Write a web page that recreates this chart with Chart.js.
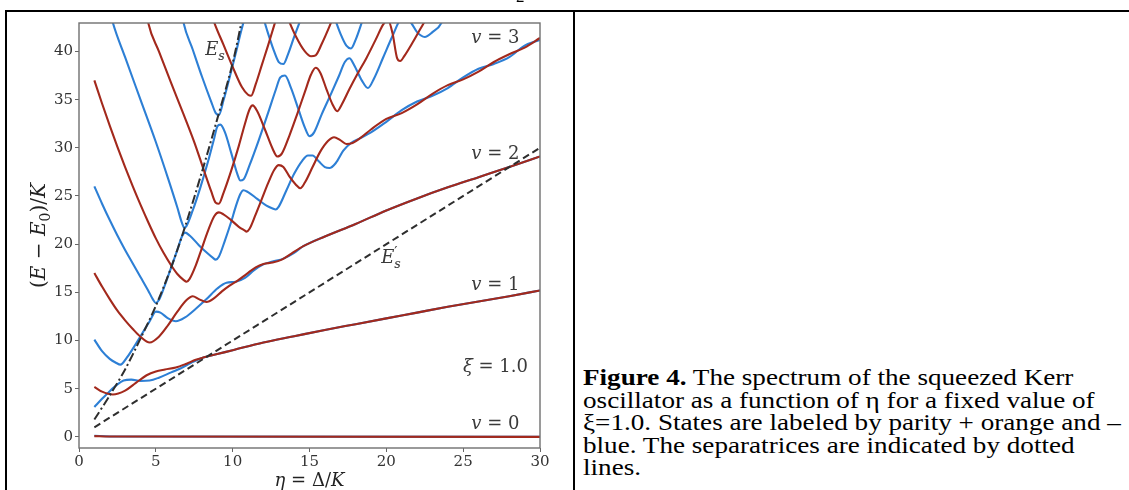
<!DOCTYPE html>
<html>
<head>
<meta charset="utf-8">
<script src="https://cdn.jsdelivr.net/npm/chart.js@4.4.1/dist/chart.umd.min.js"></script>
<style>
  html,body{margin:0;padding:0;background:#fff;}
  body{width:1129px;height:490px;overflow:hidden;position:relative;}
  #cv{position:absolute;left:0;top:0;}
  .ln{position:absolute;background:#000;z-index:5;}
  #cap{position:absolute;left:583px;top:367px;font-family:"Liberation Serif","Times New Roman",serif;
       font-size:23px;line-height:22.6px;color:#000;white-space:nowrap;transform:scaleX(1.18);transform-origin:0 0;}
  #frag{position:absolute;left:516px;top:-13px;font-family:"Liberation Serif",serif;font-size:17px;color:#000;}
</style>
</head>
<body>
<canvas id="cv" width="575" height="500"></canvas>
<div id="frag">2</div>
<div class="ln" style="left:5px;top:10px;width:1124px;height:2px;"></div>
<div class="ln" style="left:5px;top:10px;width:2px;height:480px;"></div>
<div class="ln" style="left:573px;top:10px;width:2px;height:480px;"></div>
<div id="cap"><b>Figure 4.</b> The spectrum of the squeezed Kerr<br>oscillator as a function of η for a fixed value of<br>ξ=1.0. States are labeled by parity + orange and –<br>blue. The separatrices are indicated by dotted<br>lines.</div>
<script>
// ---------- axis / tick data ----------
const xTicks = [0, 5, 10, 15, 20, 25, 30];
const yTicks = [0, 5, 10, 15, 20, 25, 30, 35, 40];
const xLimits = [0, 30];
const yLimits = [-1.15, 42.95];

// ---------- separatrices ----------
const sepPrime = [[1,1.0],[30,30.0]];                       // E's (dashed)
const sepS = [[1,1.8],[2,4.3],[3,7.0],[4,10.2],[5,13.6],[6,17.6],[7,22.3],[8,27.5],[9,33.0],[10,38.8],[10.7,44]]; // Es (dash-dot)

// ---------- even parity (red) levels ----------
const red0 = [[1,0.08],[2,0.04],[30,0.0]];
const red1 = [[1,5.2],[1.5,4.7],[2.2,4.4],[3,4.8],[3.7,5.6],[4.4,6.4],[5,6.8],[5.6,7.0],[6.3,7.2],[7,7.6],[7.6,8.0],[8,8.2],[9,8.6],[10,9.0],[12,9.8],[14,10.45],[16,11.1],[18,11.7],[20,12.3],[22,12.9],[24,13.5],[26,14.05],[28,14.6],[30,15.2]];
const red2 = [[1,17.0],[1.5,15.6],[2,14.3],[2.5,13.1],[3,12.1],[3.5,11.2],[4,10.4],[4.6,9.8],[5.2,10.4],[5.8,11.6],[6.4,13.0],[7.0,14.2],[7.4,14.6],[7.8,14.3],[8.3,14.0],[8.8,14.4],[9.3,15.1],[9.8,15.7],[10.3,16.2],[10.9,16.9],[11.5,17.6],[12.0,17.95],[12.6,18.1],[13.2,18.4],[13.8,19.0],[14.6,19.8],[16,20.8],[18,22.1],[20,23.5],[22,24.75],[24,25.9],[26,26.95],[28,28.0],[30,29.1]];
const red3 = [[1,37],[1.5,34.6],[2,32.3],[2.5,30.1],[3,28.0],[3.5,26.0],[4,24.1],[4.5,22.3],[5,20.6],[5.5,19.1],[6,17.8],[6.4,16.9],[6.8,16.3],[7.0,16.1],[7.2,16.4],[7.6,17.8],[8.0,19.6],[8.4,21.4],[8.8,22.9],[9.1,23.3],[9.4,23.1],[9.9,22.5],[10.4,21.8],[10.8,21.4],[10.9,21.3],[11.1,21.6],[11.5,23.1],[11.9,24.7],[12.3,26.3],[12.7,27.7],[13.0,28.2],[13.3,28.0],[13.7,27.0],[14.1,26.2],[14.4,25.8],[14.7,26.4],[15.2,28.0],[15.7,29.6],[16.2,30.7],[16.6,31.1],[17.0,30.8],[17.4,30.4],[17.8,30.5],[18.3,31.0],[19,31.9],[20,33.0],[21,33.6],[22,34.5],[23,35.6],[24,36.5],[25,37.1],[26,37.9],[27,38.9],[28,39.7],[29,40.4],[30,41.4]];
const red4 = [[4.4,44],[4.5,43],[5.2,40.0],[6,36.7],[6.8,33.5],[7.5,30.6],[8.1,27.8],[8.6,25.5],[8.9,24.3],[9.1,24.2],[9.4,25.3],[9.9,27.6],[10.4,30.2],[10.8,32.5],[11.1,34.0],[11.3,34.4],[11.6,33.8],[12.1,31.9],[12.6,29.9],[12.9,29.1],[13.2,29.4],[13.7,31.3],[14.2,33.5],[14.7,35.8],[15.1,37.6],[15.4,38.3],[15.7,37.8],[16.1,36.1],[16.5,34.5],[16.8,33.8],[17.1,34.5],[17.6,36.1],[18.1,37.6],[18.7,39.3],[19.3,41.2],[19.8,42.8],[20.1,43.3],[20.4,41.9],[20.7,39.3],[20.9,39.0],[21.2,39.6],[21.7,40.9],[22.2,42.3],[22.6,43.4],[22.8,44]];
const red5 = [[8.6,44],[8.8,43],[9.4,40.7],[10.0,38.4],[10.6,36.3],[11.0,35.5],[11.2,35.4],[11.5,36.6],[11.9,38.6],[12.3,40.6],[12.7,42.7],[13.0,44.2],[13.3,44.6],[13.6,43.4],[14.1,41.6],[14.7,40.0],[15.1,39.5],[15.4,39.6],[15.8,40.8],[16.3,42.6],[16.7,44.2]];

// ---------- odd parity (blue) levels ----------
const blue0 = [[1,0.12],[2,0.05],[30,0.0]];
const blue1 = [[1,3.1],[1.5,3.95],[2,4.75],[2.5,5.45],[2.9,5.85],[3.4,5.95],[4,5.8],[4.6,5.85],[5.2,6.15],[6,6.7],[6.6,7.1],[7.3,7.7],[8,8.2],[9,8.6],[10,9.0],[12,9.8],[14,10.45],[16,11.1],[18,11.7],[20,12.3],[22,12.9],[24,13.5],[26,14.05],[28,14.6],[30,15.2]];
const blue2 = [[1,10.1],[1.5,8.9],[2,8.1],[2.4,7.7],[2.7,7.5],[3.1,8.2],[3.6,9.4],[4.1,10.7],[4.6,12.0],[5.0,13.0],[5.3,12.9],[5.8,12.3],[6.3,12.0],[6.9,12.4],[7.6,13.3],[8.3,14.3],[9.0,15.4],[9.6,16.0],[10.2,16.1],[10.8,16.5],[11.4,17.3],[12.0,17.9],[12.6,18.2],[13.3,18.5],[14.0,19.1],[14.6,19.8],[16,20.8],[18,22.1],[20,23.5],[22,24.75],[24,25.9],[26,26.95],[28,28.0],[30,29.1]];
const blue3 = [[1,26],[1.5,24.2],[2,22.5],[2.5,20.9],[3,19.4],[3.5,18.0],[4,16.6],[4.5,15.2],[4.8,14.3],[5.0,13.9],[5.2,14.2],[5.6,15.8],[6.0,17.6],[6.4,19.4],[6.7,20.8],[6.9,21.2],[7.2,20.9],[7.8,19.9],[8.4,19.0],[8.7,18.6],[8.9,18.4],[9.1,18.7],[9.5,20.4],[9.9,22.3],[10.2,23.9],[10.5,25.2],[10.7,25.6],[11.0,25.4],[11.6,24.7],[12.2,24.0],[12.6,23.7],[12.8,23.6],[13.0,23.9],[13.5,25.6],[14.0,27.3],[14.5,28.6],[14.9,29.2],[15.2,29.2],[15.6,28.6],[16.0,28.0],[16.3,27.9],[16.7,28.4],[17.2,29.7],[17.7,30.5],[18.3,31.0],[19,31.6],[20,32.7],[21,33.9],[22,34.8],[23,35.4],[24,36.2],[25,37.3],[26,38.2],[27,38.7],[28,39.4],[29,40.6],[30,41.2]];
const blue4 = [[2.05,44],[2.2,43],[3,39.4],[4,35.0],[5,30.6],[5.8,26.8],[6.4,23.8],[6.7,22.2],[6.85,21.7],[7.0,21.9],[7.4,23.5],[7.9,25.9],[8.4,28.6],[8.8,31.0],[9.0,32.2],[9.2,32.4],[9.5,31.6],[9.9,29.5],[10.3,27.3],[10.5,26.6],[10.7,26.7],[11.1,28.2],[11.7,30.8],[12.3,33.6],[12.8,36.0],[13.1,37.3],[13.4,37.5],[13.8,36.2],[14.3,33.9],[14.7,32.1],[15.0,31.2],[15.3,31.6],[15.8,33.5],[16.4,35.6],[16.9,37.4],[17.3,38.9],[17.6,39.3],[17.9,38.6],[18.4,37.0],[18.8,36.2],[19.2,37.2],[19.8,39.4],[20.4,41.6],[20.9,43.3],[21.2,43.6],[21.6,43.0],[22.0,42.0],[22.5,41.5],[23.0,42.0],[23.6,43.0],[23.8,44]];
const blue5 = [[6.7,44],[6.8,43],[7.4,40.2],[8.0,37.4],[8.6,34.8],[8.9,33.6],[9.1,33.4],[9.4,34.9],[9.8,37.3],[10.2,39.8],[10.6,42.4],[11.0,44.5],[11.4,45.5],[11.8,44.5],[12.2,42.4],[12.7,40.0],[13.0,38.9],[13.3,38.7],[13.6,39.7],[14.0,41.5],[14.4,43.2],[14.8,44.8],[15.4,45.8],[16.2,45],[16.6,43.6],[17.0,41.9],[17.4,40.6],[17.7,40.3],[18.0,41.2],[18.4,43.0],[18.7,44.5]];

const redLevels  = [red0, red1, red2, red3, red4, red5];
const blueLevels = [blue0, blue1, blue2, blue3, blue4, blue5];

// ---------- text annotations (data coordinates) ----------
const notes = [
  {parts:[{t:'v',i:1},{t:' = 3'}], x:27.1, y:41.5},
  {parts:[{t:'v',i:1},{t:' = 2'}], x:27.1, y:29.5},
  {parts:[{t:'v',i:1},{t:' = 1'}], x:27.1, y:15.9},
  {parts:[{t:'ξ',i:1},{t:' = 1.0'}], x:27.1, y:7.4},
  {parts:[{t:'v',i:1},{t:' = 0'}], x:27.1, y:1.5},
  {parts:[{t:'E',i:1},{t:'s',i:1,s:0.7,dy:0.25}], x:8.85, y:40.3},
  {parts:[{t:'E',i:1},{t:'′',s:0.8,dy:-0.35,adv:0},{t:'s',i:1,s:0.7,dy:0.25}], x:20.3, y:18.7}
];
const xTitle = [{t:'η',i:1},{t:' = Δ/'},{t:'K',i:1}];
const yTitle = [{t:'('},{t:'E',i:1},{t:' − '},{t:'E',i:1},{t:'0',s:0.7,dy:0.25},{t:')/'},{t:'K',i:1}];

// ---------- styling ----------
const RED = '#a3291c';
const BLUE = '#2d7fd5';
const SEP = '#2e2e2e';
const SERIF = '"DejaVu Serif", "Liberation Serif", serif';

function fontFor(p, size){ return (p.i ? 'italic ' : '') + (size*(p.s||1)).toFixed(1) + 'px ' + SERIF; }
function drawRich(ctx, parts, x, y, size, rot, color){
  ctx.save();
  ctx.translate(x, y);
  ctx.rotate(rot || 0);
  ctx.fillStyle = color;
  ctx.textBaseline = 'alphabetic';
  ctx.textAlign = 'left';
  let w = 0; const ws = [];
  parts.forEach(p => { ctx.font = fontFor(p, size); const m = ctx.measureText(p.t).width; ws.push(m); if (p.adv !== 0) w += m; });
  let cx = -w/2;
  parts.forEach((p, k) => { ctx.font = fontFor(p, size); ctx.fillText(p.t, cx, size*0.36 + (p.dy||0)*size); if (p.adv !== 0) cx += ws[k]; });
  ctx.restore();
}

const decor = {
  id: 'decor',
  afterDatasetsDraw(chart){
    const {ctx, chartArea:a, scales:{x, y}} = chart;
    ctx.save();
    ctx.strokeStyle = '#707070';
    ctx.lineWidth = 1.4;
    ctx.strokeRect(a.left, a.top, a.right - a.left, a.bottom - a.top);
    ctx.restore();
    notes.forEach(n => drawRich(ctx, n.parts, x.getPixelForValue(n.x), y.getPixelForValue(n.y), 18, 0, '#3a3a3a'));
    drawRich(ctx, xTitle, (a.left + a.right)/2, 480, 18, 0, '#222');
    drawRich(ctx, yTitle, 38, (a.top + a.bottom)/2, 20, -Math.PI/2, '#222');
  }
};

function toXY(arr){ return arr.map(p => ({x:p[0], y:p[1]})); }
function lineSet(arr, color, extra){
  return Object.assign({data: toXY(arr), borderColor: color, borderWidth: 2.1, pointRadius: 0,
    cubicInterpolationMode: 'monotone', fill: false, clip: 0}, extra || {});
}

const datasets = [];
datasets.push(lineSet(sepS, SEP, {borderDash:[9,3,2,3], borderWidth:2, cubicInterpolationMode:'default', tension:0.3}));
datasets.push(lineSet(sepPrime, SEP, {borderDash:[7,4], borderWidth:2}));
redLevels.forEach(r => datasets.push(lineSet(r, RED)));
blueLevels.forEach(b => datasets.push(lineSet(b, BLUE)));

const tickFont = {family: SERIF, size: 15};
new Chart(document.getElementById('cv'), {
  type: 'line',
  data: {datasets},
  options: {
    responsive: false,
    animation: false,
    devicePixelRatio: 1,
    layout: {padding: {left: 0, right: 35, top: 23, bottom: 0}},
    plugins: {legend: {display: false}, tooltip: {enabled: false}},
    scales: {
      x: {
        type: 'linear', min: xLimits[0], max: xLimits[1],
        afterBuildTicks: s => { s.ticks = xTicks.map(v => ({value: v})); },
        afterFit: s => { s.height = 52; },
        ticks: {font: tickFont, color: '#333', padding: 1, maxRotation: 0},
        grid: {drawOnChartArea: false, drawTicks: true, tickLength: 4, color: '#666'},
        border: {display: false}
      },
      y: {
        type: 'linear', min: yLimits[0], max: yLimits[1],
        afterBuildTicks: s => { s.ticks = yTicks.map(v => ({value: v})); },
        afterFit: s => { s.width = 79; },
        ticks: {font: tickFont, color: '#333', padding: 2},
        grid: {drawOnChartArea: false, drawTicks: true, tickLength: 4, color: '#666'},
        border: {display: false}
      }
    }
  },
  plugins: [decor]
});
</script>
</body>
</html>
